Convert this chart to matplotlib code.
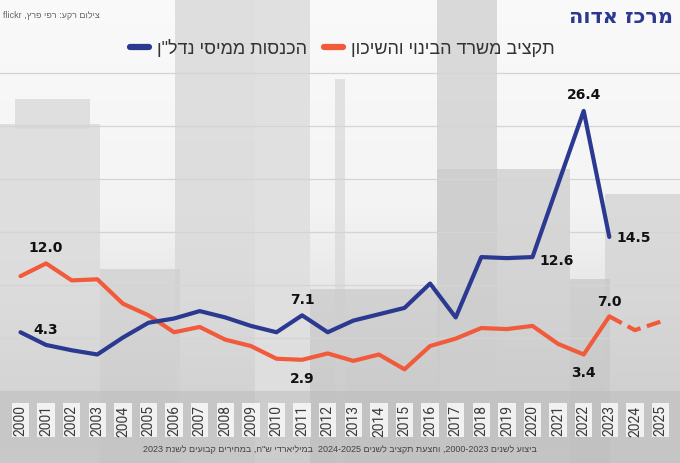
import re
import numpy as np
import matplotlib
matplotlib.use("Agg")
import matplotlib.pyplot as plt
from matplotlib.patches import Rectangle
from matplotlib.lines import Line2D

# ---------------- data ----------------
years = list(range(2000, 2026))
tax_years = list(range(2000, 2024))
tax_revenue = [5.5, 4.3, 3.8, 3.4, 5.0, 6.4, 6.8, 7.5, 6.9, 6.1, 5.5, 7.1,
               5.5, 6.6, 7.2, 7.8, 10.1, 6.9, 12.6, 12.5, 12.6, 19.5, 26.4, 14.5]
budget_years = list(range(2000, 2026))
budget = [10.8, 12.0, 10.4, 10.5, 8.2, 7.1, 5.5, 6.0, 4.8, 4.2, 3.0, 2.9,
          3.5, 2.8, 3.4, 2.0, 4.2, 4.9, 5.9, 5.8, 6.1, 4.4, 3.4, 7.0, 5.7, 6.5]
last_actual_year = 2023
tick_labels = [str(y) for y in years]

title_text = "מרכז אדוה"
credit_text = "צילום רקע: רפי פרץ, flickr"
label_tax = 'הכנסות ממיסי נדל"ן'
label_budget = "תקציב משרד הבינוי והשיכון"
footnote_text = 'ביצוע לשנים 2000-2023, והצעת תקציב לשנים 2024-2025  במיליארדי ש"ח, במחירים קבועים לשנת 2023'

BLUE = "#2b3990"
ORANGE = "#f15a3a"
HEB = ["Liberation Sans", "DejaVu Sans"]


def vis(s):
    """Convert logical-order RTL text to visual order for LTR rendering."""
    parts = re.findall(r"[0-9A-Za-z]+(?:[-.][0-9A-Za-z]+)*|[^0-9A-Za-z]+", s)
    out = []
    for p in reversed(parts):
        out.append(p if re.match(r"[0-9A-Za-z]", p) else p[::-1])
    return "".join(out)


W, H = 680, 464
fig = plt.figure(figsize=(W / 100, H / 100), dpi=100)

# ---------------- background (photo-like backdrop) ----------------
bg = fig.add_axes([0, 0, 1, 1], zorder=0)
bg.set_xlim(0, W)
bg.set_ylim(H, 0)
bg.axis("off")
grad = np.interp(np.arange(H), [0, 200, 300, 390, 464], [0.975, 0.955, 0.90, 0.80, 0.82])
bg.imshow(np.tile(grad[:, None], (1, 4)), extent=[0, W, H, 0], cmap="gray",
          vmin=0, vmax=1, aspect="auto", zorder=0)
buildings = [
    ((0, 125), 100, 340, "#d8d8d8"),
    ((15, 100), 75, 30, "#d8d8d8"),
    ((175, 0), 135, 464, "#d6d6d6"),
    ((255, 0), 55, 464, "#e2e2e2"),
    ((335, 80), 10, 400, "#dadada"),
    ((437, 0), 60, 464, "#cfcfcf"),
    ((437, 170), 133, 300, "#cdcdcd"),
    ((605, 195), 75, 270, "#d2d2d2"),
    ((100, 270), 80, 200, "#d0d0d0"),
    ((310, 290), 130, 180, "#cbcbcb"),
    ((570, 280), 40, 190, "#c8c8c8"),
]
for xy, w, h, c in buildings:
    bg.add_patch(Rectangle(xy, w, h, facecolor=c, edgecolor="none", alpha=0.75, zorder=1))
bg.add_patch(Rectangle((0, 392), W, 72, facecolor="#b8b8b8", edgecolor="none", alpha=0.45, zorder=2))

# ---------------- main axes ----------------
x0_px, dx_px = 20.5, 25.6
y0_px, ky = 391.5, 10.59
top_px = 60
ax = fig.add_axes([0, (H - y0_px) / H, 1, (y0_px - top_px) / H], zorder=2)
ax.patch.set_alpha(0)
ax.set_xlim(2000 - x0_px / dx_px, 2000 + (W - x0_px) / dx_px)
ax.set_ylim(0, (y0_px - top_px) / ky)
for s in ax.spines.values():
    s.set_visible(False)
ax.set_yticks(range(0, 31, 5))
ax.tick_params(axis="y", length=0, labelleft=False)
ax.grid(axis="y", color="#d4d4d4", linewidth=0.9)
ax.set_axisbelow(True)

ax.set_xticks(years)
ax.set_xticklabels(tick_labels, rotation=90, fontsize=10, color="#3a3a3a",
                   family=["Roboto", "DejaVu Sans"], fontweight="normal")
ax.tick_params(axis="x", length=0, pad=10)
for lab in ax.get_xticklabels():
    lab.set_bbox(dict(facecolor="#f6f6f6", edgecolor="none", alpha=0.92, pad=1.2))

# lines
ax.plot(tax_years, tax_revenue, color=BLUE, lw=3, solid_joinstyle="round",
        solid_capstyle="round", zorder=4)
split = budget_years.index(last_actual_year)
ax.plot(budget_years[:split + 1], budget[:split + 1], color=ORANGE, lw=3,
        solid_joinstyle="round", solid_capstyle="round", zorder=3)
ax.plot(budget_years[split:], budget[split:], color=ORANGE, lw=3,
        linestyle=(0, (3.4, 1.6)), dash_capstyle="butt", zorder=3)

# value labels
lab_kw = dict(textcoords="offset points", fontsize=10, fontweight="bold",
              color="#111111", family="DejaVu Sans", zorder=5)


def lab_at(xs, ys, year, dx, dy, ha="center", va="center"):
    i = xs.index(year)
    ax.annotate(f"{ys[i]:.1f}", (year, ys[i]), xytext=(dx, dy), ha=ha, va=va, **lab_kw)


lab_at(budget_years, budget, 2001, 0, 12)
lab_at(tax_years, tax_revenue, 2001, 0, 11.5)
lab_at(tax_years, tax_revenue, 2011, 0, 12)
lab_at(budget_years, budget, 2011, 0, -13)
lab_at(tax_years, tax_revenue, 2022, 0, 12)
lab_at(tax_years, tax_revenue, 2023, 5, 0, ha="left")
lab_at(tax_years, tax_revenue, 2020, 5, -2, ha="left")
lab_at(budget_years, budget, 2023, 0, 11)
lab_at(budget_years, budget, 2022, 0, -12.5)

# legend
handles = [Line2D([], [], color=BLUE, lw=4.5, solid_capstyle="round"),
           Line2D([], [], color=ORANGE, lw=4.5, solid_capstyle="round")]
leg = fig.legend(handles, [vis(label_tax), vis(label_budget)], loc="center",
                 bbox_to_anchor=(342.5 / W, 1 - 49 / H), ncol=2, frameon=False,
                 handlelength=1.05, handletextpad=0.45, columnspacing=0.95,
                 prop={"family": HEB, "size": 13})
for t in leg.get_texts():
    t.set_color("#333333")

# header / credits / footnote
fig.text(673 / W, 1 - 17 / H, vis(title_text), ha="right", va="center",
         fontsize=15, fontweight="bold", color=BLUE, family=["DejaVu Sans"])
fig.text(3 / W, 1 - 15 / H, vis(credit_text), ha="left", va="center",
         fontsize=6.5, color="#666666", family=HEB)
fig.text(340 / W, 1 - 450 / H, vis(footnote_text), ha="center", va="center",
         fontsize=6.5, color="#444444", family=HEB)

fig.savefig("out.png", dpi=100)
